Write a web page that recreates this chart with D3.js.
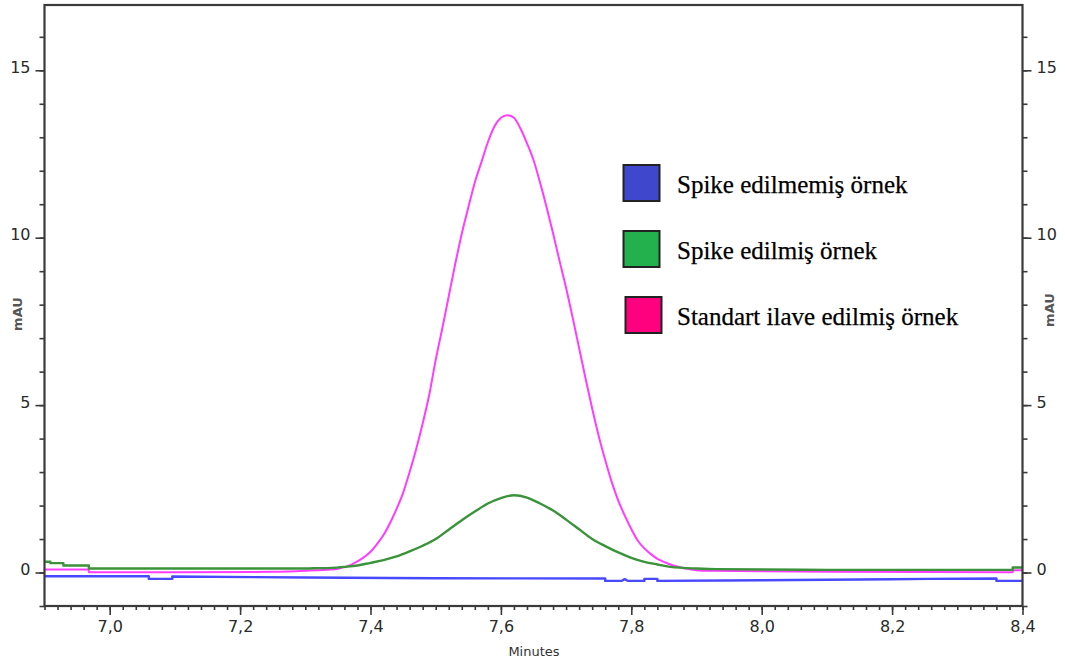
<!DOCTYPE html>
<html><head><meta charset="utf-8">
<script src="https://cdn.jsdelivr.net/npm/d3@7"></script>
<style>body{margin:0;background:#fff}svg{display:block}</style>
</head><body><svg id="c" width="1065" height="666"></svg>
<script>
// ---- data ----
const xMajorTicks = [7.0, 7.2, 7.4, 7.6, 7.8, 8.0, 8.2, 8.4];
const xTickLabels = ["7,0", "7,2", "7,4", "7,6", "7,8", "8,0", "8,2", "8,4"];
const yMajorTicks = [0, 5, 10, 15];
const yTickLabels = ["0", "5", "10", "15"];

const seriesNames = ["Spike edilmemiş örnek", "Spike edilmiş örnek", "Standart ilave edilmiş örnek"];
const legendFills = ["#3f48cc", "#22b14c", "#ff007f"];
const lineColors = ["#4848ff", "#3a933a", "#ff3cff"];

// Spike edilmemiş örnek (blue)
const blueX = [6.90, 7.06, 7.06, 7.096, 7.096, 7.30, 7.50, 7.76, 7.76, 7.785, 7.79, 7.795, 7.82, 7.82, 7.84, 7.84, 8.00, 8.20, 8.36, 8.36, 8.40];
const blueY = [-0.11, -0.11, -0.19, -0.19, -0.12, -0.15, -0.17, -0.18, -0.25, -0.25, -0.20, -0.25, -0.25, -0.19, -0.19, -0.25, -0.23, -0.20, -0.18, -0.25, -0.25];

// Spike edilmiş örnek (green)
const greenX = [6.90, 6.909, 6.909, 6.929, 6.929, 6.968, 6.968, 7.10, 7.20, 7.30, 7.32, 7.34, 7.36, 7.38, 7.40, 7.42, 7.44, 7.46, 7.48, 7.50, 7.52, 7.54, 7.56, 7.58, 7.60, 7.62, 7.64, 7.66, 7.68, 7.70, 7.72, 7.74, 7.76, 7.78, 7.80, 7.82, 7.84, 7.86, 7.88, 7.90, 7.93, 8.10, 8.385, 8.385, 8.40];
const greenY = [0.32, 0.32, 0.28, 0.28, 0.21, 0.21, 0.12, 0.12, 0.12, 0.12, 0.13, 0.14, 0.17, 0.21, 0.29, 0.37, 0.48, 0.63, 0.80, 1.00, 1.28, 1.56, 1.82, 2.06, 2.22, 2.31, 2.24, 2.06, 1.85, 1.58, 1.29, 1.00, 0.79, 0.60, 0.44, 0.32, 0.24, 0.17, 0.14, 0.12, 0.10, 0.08, 0.08, 0.15, 0.15];

// Standart ilave edilmiş örnek (magenta)
const magX = [6.90, 6.968, 6.968, 7.10, 7.25, 7.30, 7.32, 7.34, 7.35, 7.36, 7.37, 7.38, 7.39, 7.40, 7.41, 7.42, 7.43, 7.44, 7.45, 7.46, 7.47, 7.48, 7.49, 7.50, 7.51, 7.52, 7.53, 7.54, 7.55, 7.56, 7.57, 7.58, 7.59, 7.60, 7.61, 7.62, 7.63, 7.64, 7.65, 7.66, 7.67, 7.68, 7.69, 7.70, 7.71, 7.72, 7.73, 7.74, 7.75, 7.76, 7.77, 7.78, 7.79, 7.80, 7.81, 7.82, 7.83, 7.84, 7.85, 7.86, 7.87, 7.88, 7.89, 7.90, 7.92, 8.10, 8.385, 8.385, 8.40];
const magY = [0.09, 0.09, 0.01, 0.01, 0.02, 0.05, 0.07, 0.09, 0.11, 0.16, 0.23, 0.33, 0.46, 0.62, 0.85, 1.12, 1.48, 1.90, 2.38, 3.00, 3.68, 4.45, 5.30, 6.35, 7.28, 8.25, 9.22, 10.12, 10.90, 11.65, 12.25, 12.85, 13.32, 13.58, 13.66, 13.58, 13.26, 12.82, 12.32, 11.65, 10.92, 10.13, 9.30, 8.50, 7.62, 6.70, 5.78, 4.90, 4.08, 3.36, 2.70, 2.15, 1.70, 1.30, 0.95, 0.72, 0.55, 0.41, 0.32, 0.24, 0.18, 0.13, 0.10, 0.07, 0.05, 0.02, 0.01, 0.07, 0.07];

// ---- chart ----
const svg = d3.select("#c");
const L = 44.5, R = 1022.5, T = 5, B = 606;
const x = d3.scaleLinear().domain([6.9, 8.4]).range([L, R]);
const y = d3.scaleLinear().domain([-1, 16.95]).range([B, T]);
const axisColor = "#3a3a3a";
const tickFont = "DejaVu Sans, Verdana, sans-serif";

// series lines
const line = d3.line().x(d => x(d[0])).y(d => y(d[1])).curve(d3.curveMonotoneX);
const series = [d3.zip(blueX, blueY), d3.zip(magX, magY), d3.zip(greenX, greenY)];
const seriesColorIdx = [0, 2, 1];
series.forEach((s, i) => {
  svg.append("path").datum(s)
    .attr("d", line).attr("fill", "none")
    .attr("stroke", lineColors[seriesColorIdx[i]])
    .attr("stroke-width", seriesColorIdx[i] === 2 ? 2 : 2.4)
    .attr("stroke-linejoin", "round");
});

// minor ticks
const xMinor = d3.range(0, 76).map(i => +(6.9 + i * 0.02).toFixed(2));
const yMinor = d3.range(-1, 17);

function styleAxis(g) {
  g.select(".domain").remove();
  g.selectAll(".tick line").attr("stroke", axisColor).attr("stroke-width", 1.6);
  g.selectAll("text").attr("fill", "#2a2a2a").attr("font-family", tickFont).attr("font-size", 16);
}

// bottom
svg.append("g").attr("transform", `translate(0,${B})`)
  .call(d3.axisBottom(x).tickValues(xMinor).tickSize(4).tickFormat("")).call(styleAxis);
svg.append("g").attr("transform", `translate(0,${B})`)
  .call(d3.axisBottom(x).tickValues(xMajorTicks).tickSize(9).tickPadding(5.5)
    .tickFormat((d, i) => xTickLabels[i])).call(styleAxis);

// left
svg.append("g").attr("transform", `translate(${L},0)`)
  .call(d3.axisLeft(y).tickValues(yMinor).tickSize(5).tickFormat("")).call(styleAxis);
svg.append("g").attr("transform", `translate(${L},0)`)
  .call(d3.axisLeft(y).tickValues(yMajorTicks).tickSize(9).tickPadding(5)
    .tickFormat((d, i) => yTickLabels[i])).call(styleAxis)
  .selectAll("text").attr("dy", "0.12em");

// right
svg.append("g").attr("transform", `translate(${R},0)`)
  .call(d3.axisRight(y).tickValues(yMinor).tickSize(5).tickFormat("")).call(styleAxis);
svg.append("g").attr("transform", `translate(${R},0)`)
  .call(d3.axisRight(y).tickValues(yMajorTicks).tickSize(9).tickPadding(5)
    .tickFormat((d, i) => yTickLabels[i])).call(styleAxis)
  .selectAll("text").attr("dy", "0.12em");

// frame
svg.append("rect").attr("x", L).attr("y", T).attr("width", R - L).attr("height", B - T)
  .attr("fill", "none").attr("stroke", axisColor).attr("stroke-width", 2.2);

// axis titles
svg.append("text").attr("x", (L + R) / 2 + 0.5).attr("y", 656)
  .attr("text-anchor", "middle").attr("font-family", tickFont).attr("font-size", 13)
  .attr("fill", "#333").text("Minutes");
[[17, 314], [1049, 310]].forEach(([cx, cy]) => {
  svg.append("text").attr("transform", `translate(${cx},${cy}) rotate(-90)`)
    .attr("text-anchor", "middle").attr("dy", "0.35em")
    .attr("font-family", tickFont).attr("font-size", 13).attr("font-weight", "bold")
    .attr("fill", "#555").text("mAU");
});

// legend
const legendTop = [165, 231, 297];
const legendLeft = [623.5, 623.5, 625.5];
const lg = svg.append("g");
seriesNames.forEach((name, i) => {
  lg.append("rect").attr("x", legendLeft[i]).attr("y", legendTop[i])
    .attr("width", 36).attr("height", 36)
    .attr("fill", legendFills[i]).attr("stroke", "#222").attr("stroke-width", 2);
  lg.append("text").attr("x", 677).attr("y", legendTop[i] + 28)
    .attr("font-family", "Liberation Serif, Times New Roman, serif").attr("font-size", 25)
    .attr("fill", "#000").attr("stroke", "#000").attr("stroke-width", 0.25).text(name);
});
</script>
</body></html>
